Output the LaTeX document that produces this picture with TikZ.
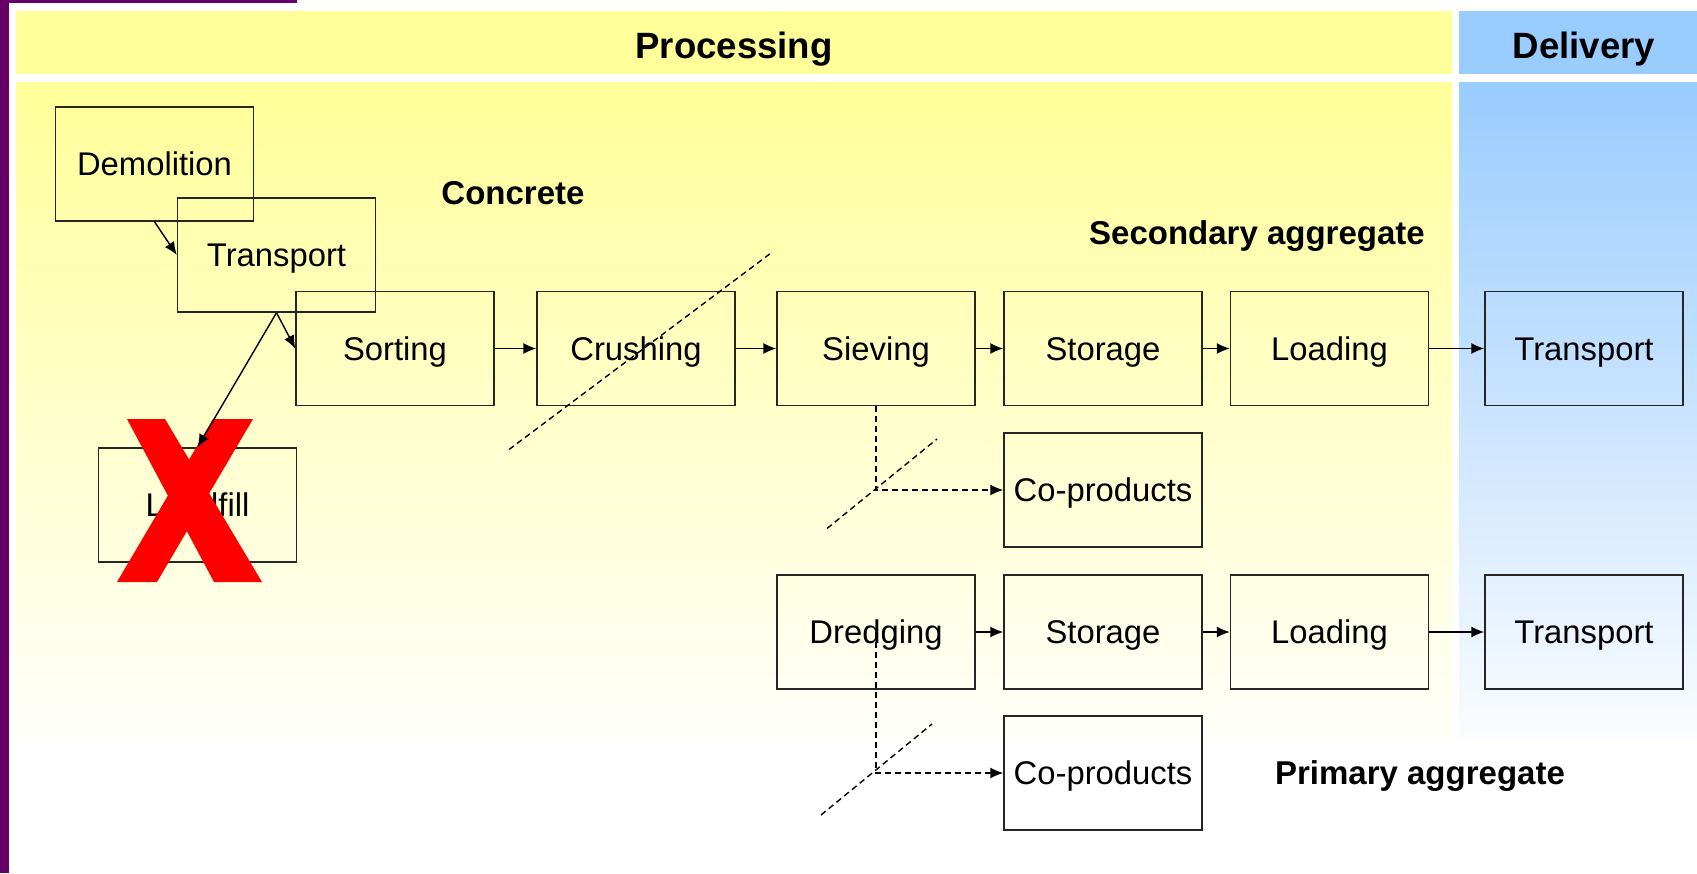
\documentclass[tikz,border=0pt]{standalone}
\usepackage{fontspec}
\setmainfont{Liberation Sans}
\usetikzlibrary{arrows.meta}

\definecolor{hdryellow}{RGB}{255,255,153}
\definecolor{hdrblue}{RGB}{153,204,255}
\definecolor{paleyellow}{RGB}{255,255,251}
\definecolor{paleblue}{RGB}{251,252,255}
\definecolor{edgepurple}{RGB}{102,0,102}
\definecolor{crossred}{RGB}{255,0,0}

\begin{document}
\begin{tikzpicture}[x = 0.5pt, y = -0.5pt,
		stage/.style = {draw = black!85, line width = 0.7pt, minimum width = 99pt, minimum height = 57pt, inner sep = 0pt, text height = 11.8pt, text depth = 0pt, font = \fontsize{16.4}{19}\selectfont},
		heading/.style = {text height = 11.8pt, text depth = 0pt, font = \fontsize{16.5}{19}\selectfont\bfseries},
		header/.style = {text height = 13.2pt, text depth = 0pt, font = \fontsize{18.3}{21}\selectfont\bfseries},
		flow/.style = {line width = 0.7pt, -{Latex[length = 6.5pt, width = 5.5pt]}},
		side/.style = {flow, dash pattern = on 3pt off 2pt},
		cut/.style = {line width = 0.7pt, dash pattern = on 3pt off 2pt}]
		\useasboundingbox (0, 0) rectangle (1697, 873);
		% background columns
		\fill[white] (0, 0) rectangle (1697, 873);
		\fill[edgepurple] (0, 0) rectangle (9, 873);
		\fill[edgepurple] (0, 0) rectangle (297, 3);
		\fill[hdryellow] (16, 11) rectangle (1452, 74);
		\fill[hdrblue] (1459, 11) rectangle (1697, 74);
		\shade[top color = hdryellow, bottom color = paleyellow] (16, 82) rectangle (1452, 740);
		\shade[top color = hdrblue, bottom color = paleblue] (1459, 82) rectangle (1697, 740);
		\node[header] at (734, 45) {Processing};
		\node[header] at (1584, 45) {Delivery};
		% concrete
		\node[stage] (demolition) at (154.5, 164) {Demolition};
		\node[stage] (haul) at (276.5, 255) {Transport};
		\node[stage] (sort) at (395, 348.5) {Sorting};
		\node[stage] (landfill) at (197.5, 505) {Landfill};
		\node[heading] at (513, 193) {Concrete};
		\fill[crossred] (127, 419) -- (165, 419) -- (262, 582) -- (214, 582) -- cycle;
		\fill[crossred] (213, 419) -- (253, 419) -- (157, 582) -- (117, 582) -- cycle;
		\draw[flow] (demolition.south) -- (haul.west);
		\draw[flow] (haul.south) -- (sort.west);
		\draw[flow] (haul.south) -- (landfill.north);
		% secondary aggregate
		\node[stage] (crush) at (636, 348.5) {Crushing};
		\node[stage] (sieve) at (876, 348.5) {Sieving};
		\node[stage] (store) at (1103, 348.5) {Storage};
		\node[stage] (load) at (1329.5, 348.5) {Loading};
		\node[stage] (deliver) at (1584, 348.5) {Transport};
		\node[stage] (coprod) at (1103, 490) {Co-products};
		\node[heading] at (1257, 233) {Secondary aggregate};
		% primary aggregate
		\node[stage] (dredge) at (876, 632) {Dredging};
		\node[stage] (storeb) at (1103, 632) {Storage};
		\node[stage] (loadb) at (1329.5, 632) {Loading};
		\node[stage] (deliverb) at (1584, 632) {Transport};
		\node[stage] (coprodb) at (1103, 773) {Co-products};
		\node[heading] at (1420, 773) {Primary aggregate};
		\foreach \a/\b in {sort/crush, crush/sieve, sieve/store, store/load, load/deliver, dredge/storeb, storeb/loadb, loadb/deliverb}
			\draw[flow] (\a) -- (\b);
		\draw[side] (sieve.south) |- (coprod.west);
		\draw[side] (dredge.center) |- (coprodb.west);
		% cut marks
		\draw[cut] (509, 449.5) -- (771, 253);
		\draw[cut] (827, 528.5) -- (937, 439);
		\draw[cut] (821, 815) -- (932, 724);
\end{tikzpicture}
\end{document}
